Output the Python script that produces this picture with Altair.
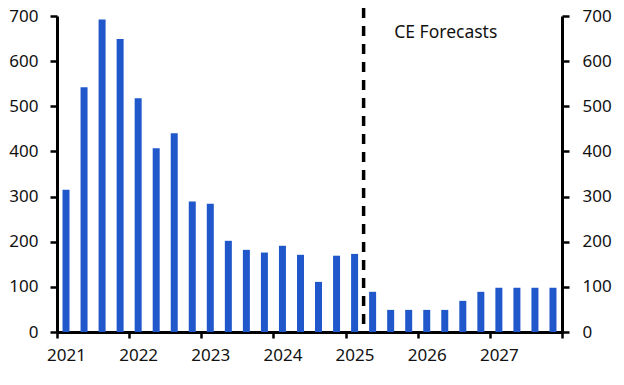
import altair as alt
import pandas as pd

years = ["2021", "2022", "2023", "2024", "2025", "2026", "2027"]
quarters = [f"{y}Q{q}" for y in years for q in range(1, 5)]
values = [315, 542, 692, 649, 518, 407, 440, 289, 284, 202, 182, 176, 191, 171,
          111, 169, 173, 89, 49, 49, 49, 49, 69, 89, 98, 98, 98, 98]
forecast_start = 17  # index of first forecast quarter (2025Q2)
annotation = "CE Forecasts"

df = pd.DataFrame({"quarter": quarters, "value": values})
df["pos"] = [i + 0.5 for i in range(len(quarters))]

n = len(quarters)
tick_vals = list(range(0, n + 1, 4))
yticks = list(range(0, 701, 100))

FONT = "Noto Sans"
xscale = alt.Scale(domain=[0, n], nice=False, zero=False, padding=0)
yscale = alt.Scale(domain=[0, 700], nice=False, padding=0)

xaxis = alt.Axis(values=tick_vals, title=None, grid=False,
                 labelExpr=f"datum.value < {n} ? '' + (2021 + datum.value/4) : ''",
                 labelOffset=9, tickSize=6, labelPadding=9, labelFlush=False,
                 labelOverlap=False)

bars = alt.Chart(df).mark_bar(size=7, color="#2058CC").encode(
    x=alt.X("pos:Q", scale=xscale, axis=xaxis),
    y=alt.Y("value:Q", scale=yscale,
            axis=alt.Axis(orient="left", values=yticks, title=None, grid=False,
                          tickSize=7, labelPadding=12)),
)

right = alt.Chart(df).mark_point(opacity=0).encode(
    x=alt.X("pos:Q", scale=xscale, axis=xaxis),
    y=alt.Y("value:Q", scale=yscale,
            axis=alt.Axis(orient="right", values=yticks, title=None, grid=False,
                          tickSize=7, labelPadding=13)),
)

rule_df = pd.DataFrame({"x": [forecast_start]})
rule = alt.Chart(rule_df).mark_rule(color="black", strokeWidth=3.5,
                                    strokeDash=[10, 8]).encode(
    x=alt.X("x:Q", scale=xscale, axis=xaxis),
    y=alt.value(-8),
    y2=alt.value(316),
)

text_df = pd.DataFrame({"x": [18.7], "y": [662], "t": [annotation]})
text = alt.Chart(text_df).mark_text(align="left", baseline="middle", font=FONT,
                                    fontSize=17.5, color="#111").encode(
    x=alt.X("x:Q", scale=xscale, axis=xaxis),
    y=alt.Y("y:Q", scale=yscale, axis=None),
    text="t:N",
)

chart = alt.layer(bars, right, rule, text).resolve_axis(y="independent").properties(
    width=505, height=316,
    padding={"left": 49, "top": 8, "right": 52, "bottom": 40},
    autosize="none",
).configure_view(stroke=None).configure_axis(
    domainColor="black", domainWidth=3, tickColor="black", tickWidth=2.5,
    labelFont=FONT, labelFontSize=17, labelColor="#111",
)

chart.save("out.html", embed_options={"renderer": "svg", "actions": False})
